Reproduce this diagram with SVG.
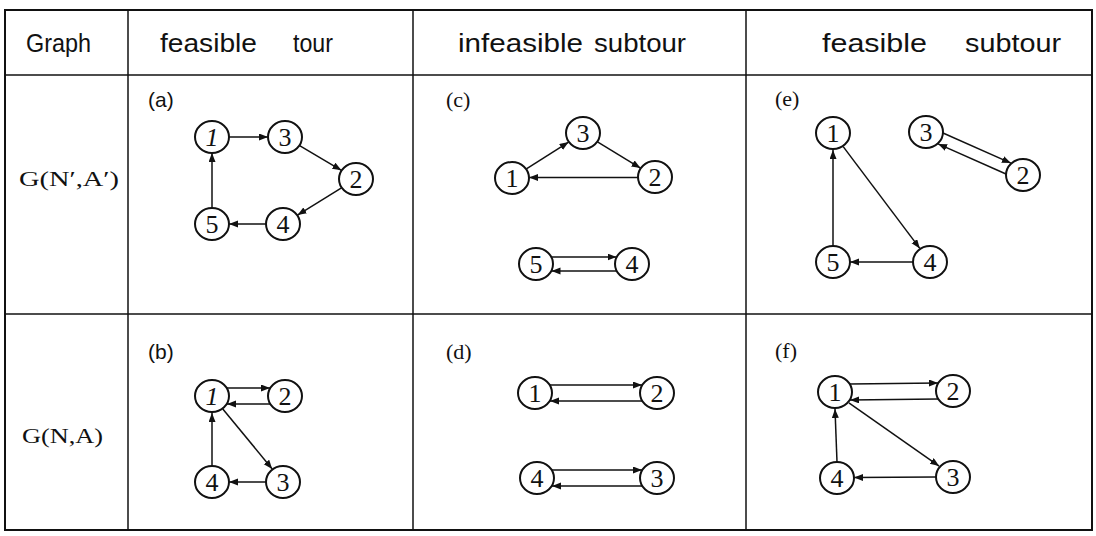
<svg xmlns="http://www.w3.org/2000/svg" width="1096" height="536" viewBox="0 0 1096 536">
  <style>
    .frame { fill: none; stroke: #111; stroke-width: 2; }
    .rule { stroke: #111; stroke-width: 1.5; }
    .head { font-family: "Liberation Sans", Arial, sans-serif; font-size: 25px; fill: #111; }
    .rowlab { font-family: "Liberation Serif", "Times New Roman", serif; font-size: 22px; fill: #111; }
    .tag { font-family: "Liberation Sans", Arial, sans-serif; font-size: 21px; fill: #111; }
    .tags { font-family: "Liberation Serif", "Times New Roman", serif; font-size: 22px; fill: #111; }
    .node ellipse { fill: #fff; stroke: #111; stroke-width: 2; }
    .node text { font-family: "Liberation Serif", "Times New Roman", serif; font-size: 26px; fill: #111; text-anchor: middle; }
    .node text.it { font-style: italic; }
    .edges line { stroke: #111; stroke-width: 1.5; marker-end: url(#arrow); }
  </style>
  <defs>
    <marker id="arrow" markerUnits="userSpaceOnUse" markerWidth="10" markerHeight="8" refX="9" refY="3.5" orient="auto">
      <path d="M0,0 L9,3.5 L0,7 z" fill="#111"/>
    </marker>
  </defs>

  <rect width="1096" height="536" fill="#fff"/>

  <!-- table grid -->
  <g id="table">
    <rect class="frame" x="5" y="10" width="1087" height="520"/>
    <line class="rule" x1="5" y1="75" x2="1092" y2="75"/>
    <line class="rule" x1="5" y1="314" x2="1092" y2="314"/>
    <line class="rule" x1="128" y1="10" x2="128" y2="530"/>
    <line class="rule" x1="413" y1="10" x2="413" y2="530"/>
    <line class="rule" x1="746" y1="10" x2="746" y2="530"/>
  </g>

  <!-- column headings -->
  <g id="headings">
    <text class="head" x="26" y="52" textLength="65" lengthAdjust="spacingAndGlyphs">Graph</text>
    <text class="head" y="52"><tspan x="160" textLength="97" lengthAdjust="spacingAndGlyphs">feasible</tspan><tspan x="293" textLength="40" lengthAdjust="spacingAndGlyphs">tour</tspan></text>
    <text class="head" y="52"><tspan x="458" textLength="125" lengthAdjust="spacingAndGlyphs">infeasible</tspan><tspan x="594" textLength="92" lengthAdjust="spacingAndGlyphs">subtour</tspan></text>
    <text class="head" y="52"><tspan x="822" textLength="105" lengthAdjust="spacingAndGlyphs">feasible</tspan><tspan x="965" textLength="96" lengthAdjust="spacingAndGlyphs">subtour</tspan></text>
  </g>

  <!-- row headings -->
  <g id="rows">
    <text class="rowlab" x="19" y="186" textLength="100" lengthAdjust="spacingAndGlyphs">G(N′,A′)</text>
    <text class="rowlab" x="22" y="443" textLength="81" lengthAdjust="spacingAndGlyphs">G(N,A)</text>
  </g>

  <!-- panel tags -->
  <g id="tags">
    <text class="tag" x="148" y="107">(a)</text>
    <text class="tag" x="148" y="359">(b)</text>
    <text class="tags" x="446" y="107">(c)</text>
    <text class="tags" x="446" y="359">(d)</text>
    <text class="tags" x="775" y="106">(e)</text>
    <text class="tags" x="775" y="358">(f)</text>
  </g>

  <!-- connectors -->
  <g id="connectors" class="edges">
    <!-- (a) -->
    <line x1="229" y1="137" x2="268" y2="137"/>
    <line x1="299.6" y1="145.7" x2="341.4" y2="170.3"/>
    <line x1="341.5" y1="187.9" x2="297.5" y2="215.1"/>
    <line x1="266" y1="224" x2="229" y2="224"/>
    <line x1="212" y1="208" x2="212" y2="153"/>
    <!-- (c) -->
    <line x1="526.4" y1="168.9" x2="568.6" y2="142.1"/>
    <line x1="597.5" y1="141.9" x2="640.5" y2="168.1"/>
    <line x1="638" y1="177.5" x2="529" y2="177.5"/>
    <line x1="551.5" y1="257" x2="616.5" y2="257"/>
    <line x1="616.5" y1="271" x2="551.5" y2="271"/>
    <!-- (e) -->
    <line x1="833" y1="246" x2="833" y2="150"/>
    <line x1="843.2" y1="146.6" x2="919.8" y2="248.4"/>
    <line x1="913" y1="262" x2="850" y2="262"/>
    <line x1="943" y1="133" x2="1010.9" y2="163.1"/>
    <line x1="1006" y1="174" x2="938.1" y2="143.9"/>
    <!-- (b) -->
    <line x1="227" y1="388" x2="270" y2="388"/>
    <line x1="270" y1="404" x2="227" y2="404"/>
    <line x1="222.8" y1="409.1" x2="272.2" y2="468.9"/>
    <line x1="266" y1="482" x2="229" y2="482"/>
    <line x1="212" y1="466" x2="212" y2="413"/>
    <!-- (d) -->
    <line x1="550" y1="385" x2="642" y2="385"/>
    <line x1="642" y1="401" x2="550" y2="401"/>
    <line x1="552" y1="470" x2="642" y2="470"/>
    <line x1="642" y1="486" x2="552" y2="486"/>
    <!-- (f) -->
    <line x1="850" y1="384" x2="938" y2="383"/>
    <line x1="938" y1="399" x2="850" y2="400"/>
    <line x1="848.9" y1="402.9" x2="939.1" y2="466.1"/>
    <line x1="936" y1="477" x2="854" y2="477.5"/>
    <line x1="837" y1="462" x2="835" y2="409"/>
  </g>

  <!-- (a) nodes -->
  <g id="a1" class="node"><ellipse cx="212" cy="137" rx="17" ry="16"/><text class="it" x="212" y="146">1</text></g>
  <g id="a3" class="node"><ellipse cx="285" cy="137" rx="17" ry="16"/><text x="285" y="146">3</text></g>
  <g id="a2" class="node"><ellipse cx="356" cy="179" rx="17" ry="16"/><text x="356" y="188">2</text></g>
  <g id="a5" class="node"><ellipse cx="212" cy="224" rx="17" ry="16"/><text x="212" y="233">5</text></g>
  <g id="a4" class="node"><ellipse cx="283" cy="224" rx="17" ry="16"/><text x="283" y="233">4</text></g>

  <!-- (c) nodes -->
  <g id="c3" class="node"><ellipse cx="583" cy="133" rx="17" ry="16"/><text x="583" y="142">3</text></g>
  <g id="c1" class="node"><ellipse cx="512" cy="178" rx="17" ry="16"/><text x="512" y="187">1</text></g>
  <g id="c2" class="node"><ellipse cx="655" cy="177" rx="17" ry="16"/><text x="655" y="186">2</text></g>
  <g id="c5" class="node"><ellipse cx="536" cy="264" rx="17" ry="16"/><text x="536" y="273">5</text></g>
  <g id="c4" class="node"><ellipse cx="632" cy="264" rx="17" ry="16"/><text x="632" y="273">4</text></g>

  <!-- (e) nodes -->
  <g id="e1" class="node"><ellipse cx="833" cy="133" rx="17" ry="16"/><text x="833" y="142">1</text></g>
  <g id="e3" class="node"><ellipse cx="926" cy="132" rx="17" ry="16"/><text x="926" y="141">3</text></g>
  <g id="e2" class="node"><ellipse cx="1023" cy="175" rx="17" ry="16"/><text x="1023" y="184">2</text></g>
  <g id="e5" class="node"><ellipse cx="833" cy="262" rx="17" ry="16"/><text x="833" y="271">5</text></g>
  <g id="e4" class="node"><ellipse cx="930" cy="262" rx="17" ry="16"/><text x="930" y="271">4</text></g>

  <!-- (b) nodes -->
  <g id="b1" class="node"><ellipse cx="212" cy="396" rx="17" ry="16"/><text class="it" x="212" y="405">1</text></g>
  <g id="b2" class="node"><ellipse cx="285" cy="396" rx="17" ry="16"/><text x="285" y="405">2</text></g>
  <g id="b4" class="node"><ellipse cx="212" cy="482" rx="17" ry="16"/><text x="212" y="491">4</text></g>
  <g id="b3" class="node"><ellipse cx="283" cy="482" rx="17" ry="16"/><text x="283" y="491">3</text></g>

  <!-- (d) nodes -->
  <g id="d1" class="node"><ellipse cx="535" cy="393" rx="17" ry="16"/><text x="535" y="402">1</text></g>
  <g id="d2" class="node"><ellipse cx="657" cy="393" rx="17" ry="16"/><text x="657" y="402">2</text></g>
  <g id="d4" class="node"><ellipse cx="537" cy="478" rx="17" ry="16"/><text x="537" y="487">4</text></g>
  <g id="d3" class="node"><ellipse cx="657" cy="478" rx="17" ry="16"/><text x="657" y="487">3</text></g>

  <!-- (f) nodes -->
  <g id="f1" class="node"><ellipse cx="835" cy="392" rx="17" ry="16"/><text x="835" y="401">1</text></g>
  <g id="f2" class="node"><ellipse cx="953" cy="391" rx="17" ry="16"/><text x="953" y="400">2</text></g>
  <g id="f4" class="node"><ellipse cx="837" cy="478" rx="17" ry="16"/><text x="837" y="487">4</text></g>
  <g id="f3" class="node"><ellipse cx="953" cy="477" rx="17" ry="16"/><text x="953" y="486">3</text></g>
</svg>
